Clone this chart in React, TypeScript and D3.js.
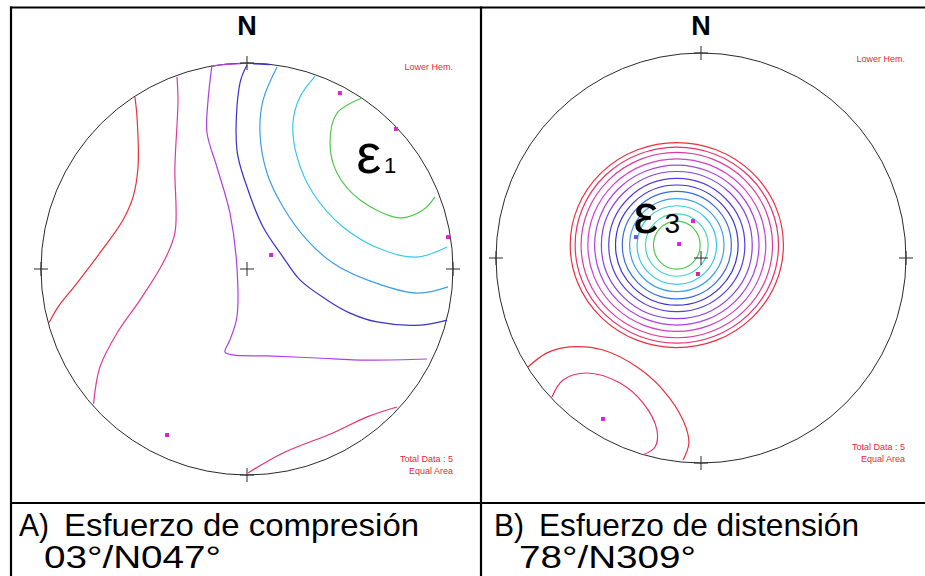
import React from "react";
import * as d3 from "d3";

type Pt = [number, number];

// Density contour palette, lowest level first.
const LEVEL_COLORS = [
  "#e8303c", "#e8306a", "#dc3aa0", "#d040c8", "#ae40e0", "#8a40e0", "#5a3ce0",
  "#3a30d0", "#3a6ae0", "#3aa0e8", "#38c8e8", "#40d8c0", "#50c850",
];

// Panel A: compression — contour lines in unit-disc coordinates (x east, y north).
const compressionContours: { level: number; pts: Pt[] }[] = [
  { level: 1, pts: [[-0.544, 0.835], [-0.534, 0.738], [-0.529, 0.495], [-0.553, 0.35], [-0.602, 0.238], [-0.714, 0.078], [-0.825, -0.068], [-0.917, -0.184], [-0.96, -0.26]] },
  { level: 3, pts: [[-0.34, 0.932], [-0.335, 0.82], [-0.35, 0.495], [-0.35, 0.175], [-0.408, 0.029], [-0.519, -0.15], [-0.631, -0.311], [-0.714, -0.476], [-0.745, -0.655]] },
  { level: 5, pts: [[-0.17, 0.99], [-0.189, 0.82], [-0.194, 0.66], [-0.146, 0.495], [-0.083, 0.272], [-0.049, 0.01], [-0.049, -0.233], [-0.083, -0.345], [-0.107, -0.403], [-0.068, -0.417], [0.097, -0.422], [0.34, -0.432], [0.583, -0.442], [0.874, -0.437]] },
  { level: 5, pts: [[-0.17, 0.985], [-0.1, 0.993], [-0.03, 0.997]] },
  { level: 8, pts: [[0.0, 0.99], [-0.034, 0.903], [-0.049, 0.578], [0.0, 0.398], [0.078, 0.204], [0.175, 0.058], [0.257, -0.053], [0.388, -0.15], [0.5, -0.214], [0.631, -0.257], [0.84, -0.272], [0.971, -0.248]] },
  { level: 8, pts: [[0.03, 0.996], [0.07, 0.995], [0.11, 0.992]] },
  { level: 10, pts: [[0.146, 0.981], [0.078, 0.82], [0.063, 0.66], [0.097, 0.466], [0.175, 0.301], [0.291, 0.141], [0.417, 0.029], [0.583, -0.053], [0.825, -0.117], [0.976, -0.087]] },
  { level: 11, pts: [[0.33, 0.935], [0.257, 0.835], [0.223, 0.709], [0.243, 0.544], [0.32, 0.369], [0.466, 0.204], [0.66, 0.092], [0.825, 0.058], [0.971, 0.107]] },
  { level: 13, pts: [[0.558, 0.83], [0.437, 0.757], [0.403, 0.612], [0.437, 0.466], [0.549, 0.335], [0.743, 0.248], [0.854, 0.286], [0.913, 0.35]] },
  { level: 2, pts: [[0.005, -0.99], [0.175, -0.893], [0.417, -0.796], [0.583, -0.718], [0.728, -0.67]] },
];

const compressionPoles: Pt[] = [
  [0.451, 0.854], [0.723, 0.68], [0.976, 0.155], [0.117, 0.068], [-0.388, -0.806],
];

// Panel B: distension — closed density rings around the maximum, outermost first.
const distensionRingCenter: Pt = [-0.118, 0.063];
const distensionRingRx = [0.52, 0.496, 0.467, 0.434, 0.401, 0.368, 0.332, 0.299, 0.266, 0.23, 0.194, 0.153, 0.114];
const distensionRingRy = [0.5, 0.478, 0.452, 0.421, 0.39, 0.359, 0.325, 0.293, 0.262, 0.227, 0.192, 0.152, 0.117];
const distensionRingLevels = [1, 2, 3, 4, 5, 6, 7, 8, 9, 10, 11, 12, 13];

const distensionContours: { level: number; pts: Pt[] }[] = [
  { level: 1, pts: [[-0.844, -0.532], [-0.751, -0.463], [-0.639, -0.434], [-0.478, -0.449], [-0.312, -0.532], [-0.185, -0.644], [-0.088, -0.79], [-0.059, -0.902], [-0.088, -0.985]] },
  { level: 2, pts: [[-0.727, -0.678], [-0.673, -0.595], [-0.556, -0.561], [-0.395, -0.61], [-0.283, -0.707], [-0.215, -0.839], [-0.224, -0.922], [-0.283, -0.96]] },
];

const distensionPoles: Pt[] = [
  [-0.039, 0.18], [-0.107, 0.068], [-0.015, -0.078], [-0.317, 0.102], [-0.478, -0.785],
];

const captions = [
  { tag: "A)", title: "Esfuerzo de compresión", axis: "03°/N047°" },
  { tag: "B)", title: "Esfuerzo de distensión", axis: "78°/N309°" },
];

const FONT = "'Liberation Sans', Arial, Helvetica, sans-serif";
const LABEL_RED = "#e6283c";

type NetProps = {
  cx: number;
  cy: number;
  r: number;
  contours: { level: number; pts: Pt[] }[];
  poles: Pt[];
  poleColors: string[];
  rings?: { center: Pt; rx: number[]; ry: number[]; levels: number[] };
  sub: string;
  symbolAt: Pt;
  subAt: Pt;
  hemAt: [number, number];
  totalAt: [number, number];
};

function Stereonet(p: NetProps) {
  const x = d3.scaleLinear().domain([-1, 1]).range([p.cx - p.r, p.cx + p.r]);
  const y = d3.scaleLinear().domain([-1, 1]).range([p.cy + p.r, p.cy - p.r]);
  const line = d3
    .line<Pt>()
    .x((d) => x(d[0]))
    .y((d) => y(d[1]))
    .curve(d3.curveCatmullRom.alpha(0.5));
  const color = (lvl: number) => LEVEL_COLORS[lvl - 1];
  const tick = 7;
  const crosses: Pt[] = [[0, 1], [0, -1], [1, 0], [-1, 0], [0, 0]];

  return (
    <g>
      <circle cx={x(0)} cy={y(0)} r={p.r} fill="none" stroke="#2a2a2a" strokeWidth={1} />
      {p.rings &&
        p.rings.rx.map((rx, i) => (
          <ellipse
            key={"ring" + i}
            cx={x(p.rings!.center[0])}
            cy={y(p.rings!.center[1])}
            rx={x(rx) - x(0)}
            ry={x(p.rings!.ry[i]) - x(0)}
            fill="none"
            stroke={color(p.rings!.levels[i])}
            strokeWidth={1.2}
          />
        ))}
      {p.contours.map((c, i) => (
        <path key={"c" + i} d={line(c.pts) || ""} fill="none" stroke={color(c.level)} strokeWidth={1.2} />
      ))}
      {crosses.map((c, i) => (
        <g key={"x" + i} stroke="#2a2a2a" strokeWidth={1}>
          <line x1={x(c[0]) - tick} x2={x(c[0]) + tick} y1={y(c[1])} y2={y(c[1])} />
          <line x1={x(c[0])} x2={x(c[0])} y1={y(c[1]) - tick} y2={y(c[1]) + tick} />
        </g>
      ))}
      {p.poles.map((d, i) => (
        <rect key={"p" + i} x={x(d[0]) - 2} y={y(d[1]) - 2} width={4} height={4} fill={p.poleColors[i]} />
      ))}
      <text x={x(0)} y={35} textAnchor="middle" fontFamily={FONT} fontWeight="bold" fontSize={27} fill="#000">
        N
      </text>
      <text x={x(p.symbolAt[0])} y={y(p.symbolAt[1])} fontFamily={FONT} fontSize={56} fill="#000">
        ε
      </text>
      <text x={x(p.subAt[0])} y={y(p.subAt[1])} fontFamily={FONT} fontSize={p.sub === "1" ? 22 : 28} fill="#000">
        {p.sub}
      </text>
      <g fontFamily={FONT} fontSize={9} fill={LABEL_RED} textAnchor="end">
        <text x={p.hemAt[0]} y={p.hemAt[1]}>Lower Hem.</text>
        <text x={p.totalAt[0]} y={p.totalAt[1]}>Total Data : {p.poles.length}</text>
        <text x={p.totalAt[0]} y={p.totalAt[1] + 12}>Equal Area</text>
      </g>
    </g>
  );
}

export default function App() {
  const W = 925;
  const H = 576;
  return (
    <svg
      width={W}
      height={H}
      viewBox={`0 0 ${W} ${H}`}
      style={{ position: "absolute", left: 0, top: 0, background: "#fff" }}
    >
      <rect width={W} height={H} fill="#fff" />
      <Stereonet
        cx={247}
        cy={269}
        r={206}
        contours={compressionContours}
        poles={compressionPoles}
        poleColors={["#e020d8", "#d030c0", "#e020d8", "#e020d8", "#e020c0"]}
        sub="1"
        symbolAt={[0.53, 0.466]}
        subAt={[0.665, 0.466]}
        hemAt={[453, 70]}
        totalAt={[453, 462]}
      />
      <Stereonet
        cx={701}
        cy={258}
        r={205}
        contours={distensionContours}
        poles={distensionPoles}
        poleColors={["#e020d8", "#e020d8", "#e0208c", "#7050e0", "#e020d8"]}
        rings={{ center: distensionRingCenter, rx: distensionRingRx, ry: distensionRingRy, levels: distensionRingLevels }}
        sub="3"
        symbolAt={[-0.33, 0.122]}
        subAt={[-0.178, 0.122]}
        hemAt={[905, 62]}
        totalAt={[905, 450]}
      />
      {/* table frame */}
      <g stroke="#000" strokeWidth={2.2}>
        <line x1={10} x2={W} y1={7.5} y2={7.5} />
        <line x1={11} x2={11} y1={6.5} y2={H} />
        <line x1={481} x2={481} y1={6.5} y2={H} />
        <line x1={10} x2={W} y1={503} y2={503} />
      </g>
      {captions.map((c, i) => {
        const x0 = i === 0 ? 19 : 494;
        return (
          <g key={c.tag} fontFamily={FONT} fontSize={32} fill="#000">
            <text x={x0} y={536} textLength={30} lengthAdjust="spacingAndGlyphs">{c.tag}</text>
            <text x={x0 + 45} y={536} textLength={i === 0 ? 355 : 320} lengthAdjust="spacingAndGlyphs">{c.title}</text>
            <text x={x0 + 25} y={568} textLength={177} lengthAdjust="spacingAndGlyphs">{c.axis}</text>
          </g>
        );
      })}
    </svg>
  );
}
